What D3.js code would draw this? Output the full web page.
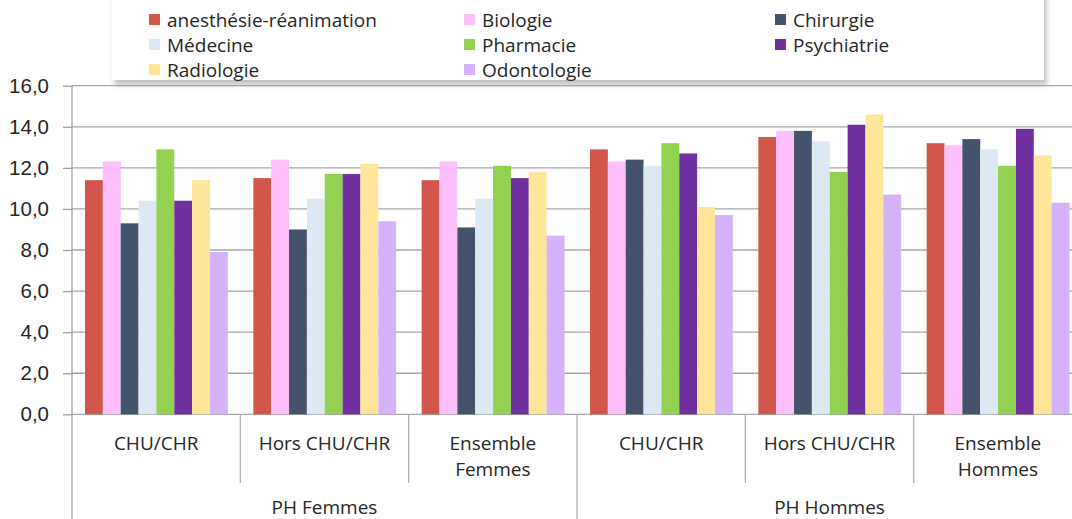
<!DOCTYPE html>
<html>
<head>
<meta charset="utf-8">
<script src="https://cdn.jsdelivr.net/npm/d3@7"></script>
<style>
  body { margin: 0; background: #fff; }
  svg { display: block; font-family: 'Open Sans', 'Liberation Sans', Arial, sans-serif; }
</style>
</head>
<body>
<svg id="chart" width="1072" height="519"></svg>
<script>
'use strict'

// series (one colour per speciality)
const series = ['anesthésie-réanimation', 'Biologie', 'Chirurgie', 'Médecine', 'Pharmacie', 'Psychiatrie', 'Radiologie', 'Odontologie']
const colors = ['#d2564c', '#fdc0fd', '#43536b', '#dde8f5', '#93d150', '#7030a0', '#ffe599', '#d6b2fa']

// x categories: sub label lines + outer group
const subLabels = [['CHU/CHR'], ['Hors CHU/CHR'], ['Ensemble', 'Femmes'], ['CHU/CHR'], ['Hors CHU/CHR'], ['Ensemble', 'Hommes']]
const outerGroups = ['PH Femmes', 'PH Hommes']

// values per category, in series order
const values = [
  [11.4, 12.3, 9.3, 10.4, 12.9, 10.4, 11.4, 7.9],
  [11.5, 12.4, 9.0, 10.5, 11.7, 11.7, 12.2, 9.4],
  [11.4, 12.3, 9.1, 10.5, 12.1, 11.5, 11.8, 8.7],
  [12.9, 12.3, 12.4, 12.1, 13.2, 12.7, 10.1, 9.7],
  [13.5, 13.8, 13.8, 13.3, 11.8, 14.1, 14.6, 10.7],
  [13.2, 13.1, 13.4, 12.9, 12.1, 13.9, 12.6, 10.3]
]

const yTicks = [0, 2, 4, 6, 8, 10, 12, 14, 16]

const svg = d3.select('#chart')
const plotLeft = 72, plotRight = 1082, plotTop = 85.7, plotBottom = 414.3

const x = d3.scaleBand().domain(d3.range(subLabels.length)).range([plotLeft, plotRight])
const xInner = d3.scaleBand().domain(d3.range(series.length)).range([13, x.bandwidth() - 12.5])
const y = d3.scaleLinear().domain([0, 16]).range([plotBottom, plotTop])
const fmt = d => d.toFixed(1).replace('.', ',')

// gridlines + y axis
svg.append('g')
  .attr('transform', 'translate(' + plotLeft + ',0)')
  .call(d3.axisLeft(y).tickValues(yTicks).tickFormat(fmt).tickSize(9).tickPadding(14))
  .call(g => g.select('.domain').remove())
  .call(g => g.selectAll('.tick line').attr('stroke', '#9f9f9f').attr('stroke-width', 1.3))
  .call(g => g.selectAll('.tick text').attr('font-size', 20.5).attr('fill', '#262626'))

svg.append('g')
  .selectAll('line')
  .data(yTicks)
  .enter().append('line')
  .attr('x1', plotLeft).attr('x2', plotRight)
  .attr('y1', d => y(d)).attr('y2', d => y(d))
  .attr('stroke', '#a6a6a6').attr('stroke-width', 1.3)

// bars
const groups = svg.append('g').selectAll('g')
  .data(values)
  .enter().append('g')
  .attr('transform', (d, i) => 'translate(' + x(i) + ',0)')

groups.selectAll('rect')
  .data(d => d)
  .enter().append('rect')
  .attr('x', (d, i) => xInner(i))
  .attr('width', xInner.bandwidth())
  .attr('y', d => y(d))
  .attr('height', d => plotBottom - y(d))
  .attr('fill', (d, i) => colors[i])

// axis lines and category separators
svg.append('line')
  .attr('x1', plotLeft).attr('x2', plotLeft).attr('y1', plotTop).attr('y2', 519)
  .attr('stroke', '#9f9f9f').attr('stroke-width', 1.3)

svg.append('g').selectAll('line')
  .data(d3.range(1, subLabels.length))
  .enter().append('line')
  .attr('x1', i => x(i)).attr('x2', i => x(i))
  .attr('y1', plotBottom).attr('y2', i => i % 3 === 0 ? 519 : 483)
  .attr('stroke', '#b0b0b0').attr('stroke-width', 1.3)

// category labels
svg.append('g').selectAll('text')
  .data(subLabels)
  .enter().append('text')
  .attr('x', (d, i) => x(i) + x.bandwidth() / 2)
  .attr('y', 450)
  .attr('text-anchor', 'middle')
  .attr('font-size', 19)
  .attr('fill', '#262626')
  .selectAll('tspan')
  .data(d => d)
  .enter().append('tspan')
  .attr('x', function () { return this.parentNode.getAttribute('x') })
  .attr('dy', (d, i) => i ? 26 : 0)
  .text(d => d)

svg.append('g').selectAll('text')
  .data(outerGroups)
  .enter().append('text')
  .attr('x', (d, i) => x(i * 3) + x.bandwidth() * 1.5)
  .attr('y', 514)
  .attr('text-anchor', 'middle')
  .attr('font-size', 19)
  .attr('fill', '#262626')
  .text(d => d)

// legend box with soft shadow
const defs = svg.append('defs')
defs.append('filter').attr('id', 'shadow')
  .attr('x', '-5%').attr('y', '-20%').attr('width', '110%').attr('height', '150%')
  .append('feGaussianBlur').attr('stdDeviation', 2.5)

svg.append('rect')
  .attr('x', 114).attr('y', -10).attr('width', 933).attr('height', 95)
  .attr('fill', '#9a9a9a').attr('opacity', 0.6).attr('filter', 'url(#shadow)')
svg.append('rect')
  .attr('x', 112).attr('y', -10).attr('width', 932).attr('height', 90)
  .attr('fill', '#fff')

const colX = [149, 464, 775]
const rowY = [20, 45, 70]
const legend = svg.append('g').selectAll('g')
  .data(series)
  .enter().append('g')
  .attr('transform', (d, i) => 'translate(' + colX[i % 3] + ',' + rowY[Math.floor(i / 3)] + ')')

legend.append('rect')
  .attr('x', 0).attr('y', -6).attr('width', 11).attr('height', 11)
  .attr('fill', (d, i) => colors[i])

legend.append('text')
  .attr('x', 18).attr('y', 6.5)
  .attr('font-size', 19)
  .attr('fill', '#262626')
  .text(d => d)
</script>
</body>
</html>
